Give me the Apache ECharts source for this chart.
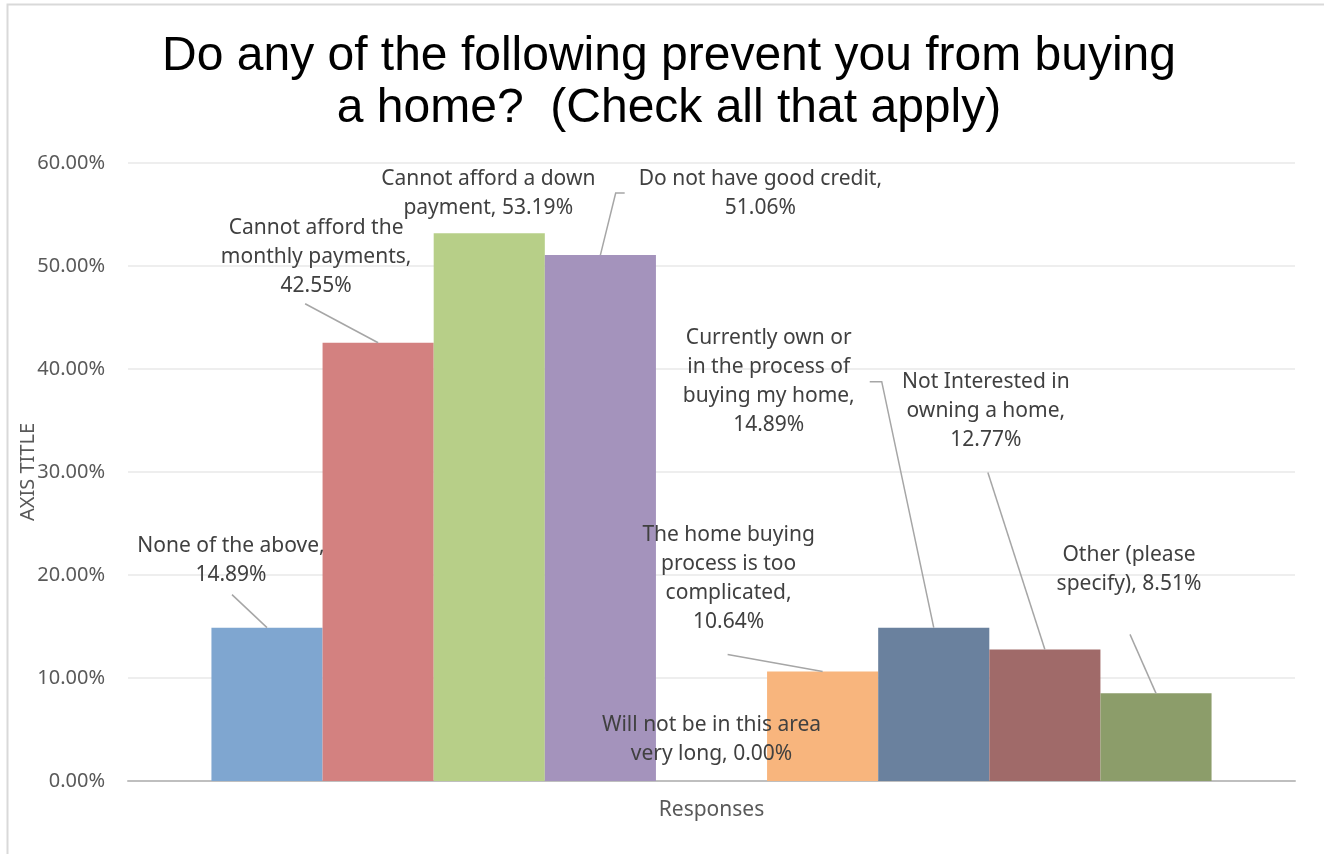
<!DOCTYPE html>
<html>
<head>
<meta charset="utf-8">
<script src="https://cdn.jsdelivr.net/npm/echarts@6/dist/echarts.min.js"></script>
<style>
html,body{margin:0;padding:0;background:#fff;}
#chart{width:1324px;height:854px;}
</style>
</head>
<body>
<div id="chart"></div>
<script>
// ---- data ----
const titleText = 'Do any of the following prevent you from buying\na home?  (Check all that apply)';
const categories = ['Responses'];
const seriesNames = [
  'None of the above',
  'Cannot afford the monthly payments',
  'Cannot afford a down payment',
  'Do not have good credit',
  'Will not be in this area very long',
  'The home buying process is too complicated',
  'Currently own or in the process of buying my home',
  'Not Interested in owning a home',
  'Other (please specify)'
];
const seriesValues = [14.89, 42.55, 53.19, 51.06, 0.00, 10.64, 14.89, 12.77, 8.51];
// label text templates ({v} = value), with the line wrapping seen in the picture
const labelTemplates = [
  'None of the above,\n{v}',
  'Cannot afford the\nmonthly payments,\n{v}',
  'Cannot afford a down\npayment, {v}',
  'Do not have good credit,\n{v}',
  'Will not be in this area\nvery long, {v}',
  'The home buying\nprocess is too\ncomplicated,\n{v}',
  'Currently own or\nin the process of\nbuying my home,\n{v}',
  'Not Interested in\nowning a home,\n{v}',
  'Other (please\nspecify), {v}'
];
const yTicks = [0, 10, 20, 30, 40, 50, 60];
const axisTitle = 'AXIS TITLE';

// ---- styles / layout ----
const colors = ['#7FA6D0', '#D38180', '#B7CF88', '#A493BC', '#4BACC6', '#F8B57D', '#6A819E', '#A06A69', '#8C9D6A'];
const labelOffsets = [
  [-36, -38], [-62, -42], [-1, -11], [160, -33], [0, -12],
  [-94, -35], [-165, -188], [-59, -195], [-27, -95]
];
// leader line: [side of label, x shift of start, gap from label, horizontal stub]
const leaderLines = [
  ['bottom', 1, 5, 0], ['bottom', -11, 3, 0], null, ['left', 0, 14, 9], null,
  ['bottom', -1, 18, 0], ['right', 0, 15, 12], ['bottom', 2, 18, 0], ['bottom', 1, 36, 0]
];
const LINE_H = 29;
const LABEL_SIZE = 21;
const labelFont = '"Noto Sans", sans-serif';

const fmtLabel = (i, v) => labelTemplates[i].replace('{v}', v.toFixed(2) + '%');

const series = seriesNames.map((name, i) => ({
  name: name,
  type: 'bar',
  data: [seriesValues[i]],
  barGap: '0%',
  barCategoryGap: '14.3%',
  itemStyle: { color: colors[i] },
  label: {
    show: true,
    position: 'top',
    distance: 0,
    color: '#404040',
    fontFamily: labelFont,
    fontSize: LABEL_SIZE,
    lineHeight: LINE_H,
    align: 'center',
    formatter: (p) => fmtLabel(i, p.value)
  },
  labelLayout: { dx: labelOffsets[i][0], dy: labelOffsets[i][1] },
  emphasis: { disabled: true }
}));

const borderRect = {
  type: 'rect',
  shape: { x: 7.5, y: 4.5, width: 1340, height: 870 },
  style: { fill: null, stroke: '#D9D9D9', lineWidth: 2 },
  silent: true
};

const chart = echarts.init(document.getElementById('chart'), null, { renderer: 'canvas' });
chart.setOption({
  animation: false,
  backgroundColor: '#ffffff',
  title: {
    text: titleText,
    left: 664,
    top: 26,
    textAlign: 'center',
    textStyle: {
      fontFamily: '"Liberation Sans", Arial, sans-serif',
      fontSize: 48,
      fontWeight: 'normal',
      color: '#000000',
      lineHeight: 52
    }
  },
  graphic: [borderRect],
  grid: { left: 128, right: 29, top: 163, bottom: 73, containLabel: false },
  xAxis: {
    type: 'category',
    data: categories,
    axisLine: { show: true, lineStyle: { color: '#BFBFBF', width: 2 } },
    axisTick: { show: false },
    axisLabel: { color: '#595959', fontFamily: labelFont, fontSize: 21, margin: 19 }
  },
  yAxis: {
    type: 'value',
    min: yTicks[0],
    max: yTicks[yTicks.length - 1],
    interval: 10,
    name: axisTitle,
    nameLocation: 'middle',
    nameGap: 90,
    nameMoveOverlap: false,
    nameRotate: 90,
    nameTextStyle: { color: '#595959', fontFamily: labelFont, fontSize: 20 },
    axisLine: { show: false },
    axisTick: { show: false },
    axisLabel: {
      color: '#595959',
      fontFamily: labelFont,
      fontSize: 20,
      margin: 23,
      formatter: (v) => v.toFixed(2) + '%'
    },
    splitLine: { lineStyle: { color: '#E8E8E8', width: 1.5 } }
  },
  series: series
});

// leader lines from labels to the bar tops, using the library's bar layout
const ctx = document.createElement('canvas').getContext('2d');
ctx.font = LABEL_SIZE + 'px ' + labelFont;
const guides = [];
seriesNames.forEach((name, i) => {
  const cfg = leaderLines[i];
  if (!cfg) return;
  const layout = chart.getModel().getSeriesByIndex(i).getData().getItemLayout(0);
  const bx = layout.x + layout.width / 2;
  const by = Math.min(layout.y, layout.y + layout.height);
  const lines = fmtLabel(i, seriesValues[i]).split('\n');
  const w = Math.max(...lines.map(t => ctx.measureText(t).width));
  const h = lines.length * LINE_H;
  const cx = bx + labelOffsets[i][0];
  const cy = by - h / 2 + labelOffsets[i][1];
  let pts;
  const [side, sx, gap, stub] = cfg;
  if (side === 'bottom') {
    pts = [[cx + sx, cy + h / 2 + gap], [bx, by]];
  } else if (side === 'left') {
    const x0 = cx - w / 2 - gap;
    pts = [[x0, cy], [x0 - stub, cy], [bx, by]];
  } else {
    const x0 = cx + w / 2 + gap;
    pts = [[x0, cy], [x0 + stub, cy], [bx, by]];
  }
  guides.push({
    type: 'polyline',
    shape: { points: pts },
    style: { stroke: '#A6A6A6', lineWidth: 1.5, fill: null },
    silent: true,
    z: 10
  });
});
chart.setOption({ graphic: [borderRect].concat(guides) }, { replaceMerge: ['graphic'] });
</script>
</body>
</html>
